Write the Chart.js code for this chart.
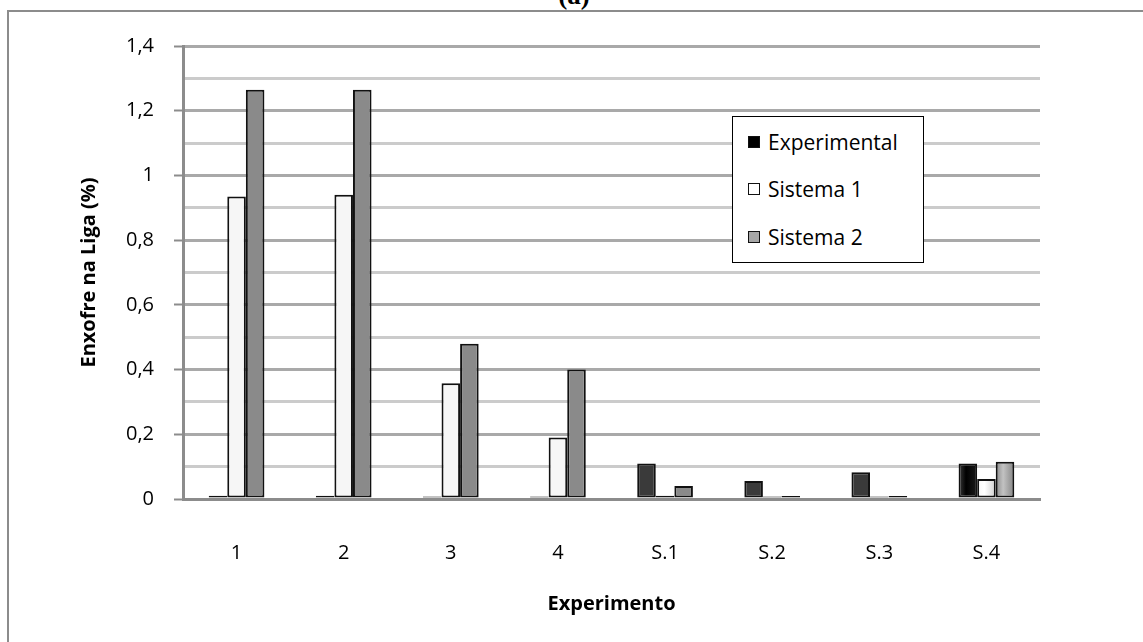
<!DOCTYPE html>
<html>
<head>
<meta charset="utf-8">
<title>Enxofre na Liga</title>
<script src="https://cdn.jsdelivr.net/npm/chart.js@4.4.1/dist/chart.umd.min.js"></script>
<style>
  html, body { margin: 0; padding: 0; background: #fff; overflow: hidden; }
  #wrap   { position: relative; width: 1143px; height: 642px; overflow: hidden; }
  #frame  { position: absolute; left: 7px; top: 10px; width: 1300px; height: 800px;
            border: 2px solid #8c8c8c; box-sizing: border-box; }
  #tag    { position: absolute; left: 0; top: -20px; width: 1148px; text-align: center;
            font: bold 27px 'Liberation Serif', serif; color: #000; }
  canvas  { position: absolute; left: 0; top: 0; }
  #legend { position: absolute; left: 732px; top: 116px; width: 192px; height: 147px;
            box-sizing: border-box; border: 1.5px solid #000; background: #fff;
            font: 21px 'Open Sans', sans-serif; color: #000; padding-top: 1px; }
  #legend .row { height: 47.5px; display: flex; align-items: center; }
  #legend .box { width: 10px; height: 10px; margin: 0 8px 0 15px; border: 1.5px solid #111; }
</style>
</head>
<body>
<div id="wrap">
  <div id="frame"></div>
  <div id="tag">(a)</div>
  <canvas id="enxofreChart" width="1143" height="642"></canvas>
  <div id="legend"></div>
</div>
<script>
// categories and values
const CATEGORIES   = ['1', '2', '3', '4', 'S.1', 'S.2', 'S.3', 'S.4'];
const EXPERIMENTAL = [0.01, 0.01, 0.008, 0.008, 0.11, 0.056, 0.083, 0.11];
const SISTEMA_1    = [0.935, 0.94, 0.358, 0.19, 0.01, 0.008, 0.008, 0.062];
const SISTEMA_2    = [1.265, 1.265, 0.48, 0.40, 0.04, 0.009, 0.009, 0.115];
const SERIES_NAMES = ['Experimental', 'Sistema 1', 'Sistema 2'];
const Y_MIN = 0, Y_MAX = 1.4, Y_STEP = 0.1;

const FONT = "'Open Sans', sans-serif";

// cylinder-ish shading per series (left -> right)
const SHADES = [
  ['#3a3a3a', '#000000', '#1a1a1a'],
  ['#f6f6f6', '#ffffff', '#cfcfcf'],
  ['#8a8a8a', '#c2c2c2', '#858585'],
];
const LEGEND_FILL = ['#000000', '#ffffff', '#a6a6a6'];

const isMajor = v => Math.round(v * 10) % 2 === 0;

const shadePlugin = {
  id: 'shade',
  beforeDatasetsDraw(chart) {
    const ctx = chart.ctx;
    chart.data.datasets.forEach((ds, i) => {
      chart.getDatasetMeta(i).data.forEach(bar => {
        const g = ctx.createLinearGradient(bar.x - bar.width / 2, 0, bar.x + bar.width / 2, 0);
        const s = SHADES[i];
        g.addColorStop(0, s[0]);
        g.addColorStop(0.4, s[1]);
        g.addColorStop(1, s[2]);
        bar.options.backgroundColor = g;
      });
    });
  },
};

const chart = new Chart(document.getElementById('enxofreChart'), {
  type: 'bar',
  data: {
    labels: CATEGORIES,
    datasets: [EXPERIMENTAL, SISTEMA_1, SISTEMA_2].map((vals, i) => ({
      label: SERIES_NAMES[i],
      data: vals,
      backgroundColor: LEGEND_FILL[i],
      borderColor: '#111',
      borderWidth: 2,
      borderSkipped: false,
      barPercentage: 1.0,
      categoryPercentage: 0.52,
    })),
  },
  options: {
    responsive: false,
    animation: false,
    layout: { padding: { left: 0, top: 46, right: 103, bottom: 0 } },
    plugins: {
      legend: { display: false },
      tooltip: { enabled: false },
    },
    scales: {
      x: {
        grid: { display: false, drawTicks: false, tickLength: 0 },
        border: { color: '#8c8c8c', width: 3 },
        ticks: { color: '#000', padding: 42, font: { family: FONT, size: 20 } },
        title: {
          display: true, text: 'Experimento', color: '#000',
          padding: { top: 0, bottom: 26 },
          font: { family: FONT, size: 20, weight: 'bold' },
        },
        afterFit: s => { s.height = 143; },
      },
      y: {
        min: Y_MIN, max: Y_MAX,
        grid: {
          color: c => isMajor(c.tick.value) ? '#a9a9a9' : '#cbcbcb',
          lineWidth: 3,
          drawTicks: true,
          tickLength: 9,
          tickWidth: 2,
          tickColor: c => isMajor(c.tick.value) ? '#8c8c8c' : 'rgba(0,0,0,0)',
        },
        border: { color: '#8c8c8c', width: 3 },
        ticks: {
          stepSize: Y_STEP,
          color: '#000',
          padding: 20,
          font: { family: FONT, size: 20 },
          callback: v => isMajor(v) ? String(Math.round(v * 10) / 10).replace('.', ',') : '',
        },
        title: {
          display: true, text: 'Enxofre na Liga (%)', color: '#000',
          padding: { top: 77, bottom: 0 },
          font: { family: FONT, size: 20, weight: 'bold' },
        },
        afterFit: s => { s.width = 183; },
      },
    },
  },
  plugins: [shadePlugin],
});

// legend box
const legendEl = document.getElementById('legend');
SERIES_NAMES.forEach((name, i) => {
  const row = document.createElement('div');
  row.className = 'row';
  row.innerHTML = `<span class="box" style="background:${LEGEND_FILL[i]}"></span><span>${name}</span>`;
  legendEl.appendChild(row);
});
</script>
</body>
</html>
